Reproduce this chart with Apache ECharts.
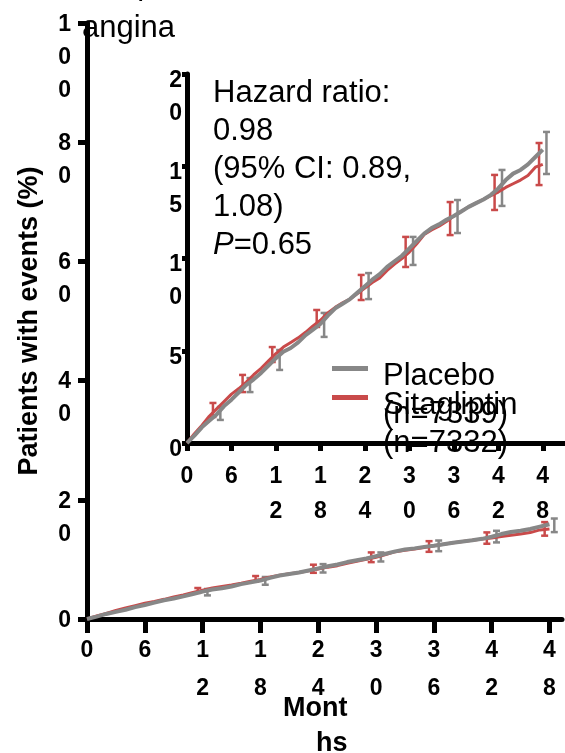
<!DOCTYPE html>
<html>
<head>
<meta charset="utf-8">
<script src="https://cdn.jsdelivr.net/npm/echarts@6/dist/echarts.min.js"></script>
<style>
  html, body { margin: 0; padding: 0; background: #fff; }
  #chart { width: 565px; height: 753px; }
</style>
</head>
<body>
<div id="chart"></div>
<script>
// months of follow-up
var months = [0, 1, 2, 3, 4, 5, 6, 7, 8, 9, 10, 11, 12, 13, 14, 15, 16, 17, 18, 19, 20, 21, 22, 23, 24,
  25, 26, 27, 28, 29, 30, 31, 32, 33, 34, 35, 36, 37, 38, 39, 40, 41, 42, 43, 44, 45, 46, 47, 48];
// cumulative % with events
var placeboPct = [0, 0.4, 0.85, 1.2, 1.55, 2.0, 2.35, 2.75, 3.15, 3.45, 3.8, 4.2, 4.6, 4.95, 5.15, 5.45, 5.85,
  6.15, 6.45, 6.9, 7.3, 7.55, 7.8, 8.15, 8.5, 8.85, 9.15, 9.55, 9.85, 10.15, 10.55, 10.95, 11.35, 11.65,
  11.85, 12.1, 12.3, 12.55, 12.8, 13.0, 13.2, 13.45, 13.8, 14.25, 14.6, 14.8, 15.1, 15.5, 15.9];
var sitagliptinPct = [0, 0.5, 0.95, 1.45, 1.85, 2.25, 2.65, 2.95, 3.3, 3.7, 4.05, 4.45, 4.85, 5.2, 5.45, 5.7, 6.0,
  6.35, 6.65, 7.05, 7.35, 7.6, 7.8, 8.1, 8.4, 8.7, 8.95, 9.35, 9.7, 10.0, 10.35, 10.8, 11.3, 11.55,
  11.75, 12.0, 12.3, 12.55, 12.8, 13.0, 13.2, 13.4, 13.6, 13.85, 14.05, 14.25, 14.5, 14.95, 15.1];
// 95% CI bars
var ciMonths = [4, 8, 12, 18, 24, 30, 36, 42, 48];
var placeboLo = [1.25, 2.76, 3.96, 5.75, 7.80, 9.65, 11.38, 12.85, 14.58];
var placeboHi = [1.95, 3.52, 5.04, 7.05, 9.21, 11.17, 13.17, 14.80, 16.86];
var sitagliptinLo = [1.41, 2.76, 4.39, 6.29, 7.75, 9.54, 11.27, 12.63, 13.98];
var sitagliptinHi = [2.17, 3.69, 5.20, 7.21, 9.11, 11.17, 13.06, 14.53, 16.26];

var monthTicks = [0, 6, 12, 18, 24, 30, 36, 42, 48];

var seriesNames = ['Placebo', 'Sitagliptin'];
var seriesN = ['7339', '7332'];

var GRAY = '#878787';
var RED = '#c94a4a';
var FONT = "'Liberation Sans', Arial, sans-serif";

var chart = echarts.init(document.getElementById('chart'));

function zip(xs, ys) {
  return xs.map(function (x, i) { return [x, ys[i]]; });
}
function ciData(lo, hi) {
  return ciMonths.map(function (m, i) { return [m, lo[i], hi[i]]; });
}
// split every character onto its own line, like the original
function stack(v) {
  return String(v).split('').join('\n');
}

function errorBars(color, shift) {
  return function (params, api) {
    var top = api.coord([api.value(0) + shift, api.value(2)]);
    var bot = api.coord([api.value(0) + shift, api.value(1)]);
    var w = 3.5;
    return {
      type: 'group',
      children: [
        { type: 'line', shape: { x1: top[0], y1: top[1], x2: bot[0], y2: bot[1] }, style: { stroke: color, lineWidth: 2.5 } },
        { type: 'line', shape: { x1: top[0] - w, y1: top[1], x2: top[0] + w, y2: top[1] }, style: { stroke: color, lineWidth: 2.5 } },
        { type: 'line', shape: { x1: bot[0] - w, y1: bot[1], x2: bot[0] + w, y2: bot[1] }, style: { stroke: color, lineWidth: 2.5 } }
      ]
    };
  };
}

function xAxisOf(idx, opts) {
  return {
    type: 'value', gridIndex: idx, min: 0, max: opts.max, interval: 6,
    splitLine: { show: false },
    axisLine: { lineStyle: { color: '#000', width: 5 } },
    axisTick: { customValues: monthTicks, length: opts.tickLen, lineStyle: { color: '#000', width: 5 } },
    axisLabel: {
      customValues: monthTicks, formatter: stack, color: '#000', fontFamily: FONT, fontWeight: 'bold',
      fontSize: 23, lineHeight: opts.lineHeight, margin: opts.margin
    }
  };
}
function yAxisOf(idx, opts) {
  return {
    type: 'value', gridIndex: idx, min: 0, max: opts.max, interval: opts.interval,
    splitLine: { show: false },
    axisLine: { lineStyle: { color: '#000', width: 5 } },
    axisTick: { length: opts.tickLen, lineStyle: { color: '#000', width: 5 } },
    axisLabel: {
      formatter: stack, color: '#000', fontFamily: FONT, fontWeight: 'bold', fontSize: 23,
      lineHeight: 33, margin: opts.margin, verticalAlign: 'top', padding: [opts.padTop, 0, 0, 0]
    }
  };
}

// empty first line pushes the name down so it sits beside the icon
function legendOf(i, top) {
  return {
    data: [seriesNames[i]], left: 332, top: top, orient: 'vertical', padding: 0,
    icon: 'rect', itemWidth: 36, itemHeight: 5, selectedMode: false,
    formatter: function (name) { return '{s| }\n{t|' + name + '}\n{t|(n=' + seriesN[i] + ')}'; },
    textStyle: {
      fontFamily: FONT, fontSize: 31, color: '#000', lineHeight: 37, padding: [0, 0, 0, 10],
      rich: {
        s: { fontSize: 2, lineHeight: 53 },
        t: { fontFamily: FONT, fontSize: 31, color: '#000', lineHeight: 38 }
      }
    }
  };
}

var option = {
  animation: false,
  backgroundColor: '#fff',
  grid: [
    { left: 87, top: 23, width: 475, height: 596, outerBoundsMode: 'none' },
    { left: 187, top: 74, width: 378, height: 369, outerBoundsMode: 'none' }
  ],
  xAxis: [
    Object.assign(xAxisOf(0, { max: 49.3, tickLen: 14, lineHeight: 38, margin: 13 }), {
      name: 'Mont\nhs', nameLocation: 'middle', nameGap: 72, nameMoveOverlap: false,
      nameTextStyle: { fontFamily: FONT, fontWeight: 'bold', fontSize: 27, lineHeight: 35, color: '#000', align: 'right', padding: [0, -23, 0, 0] }
    }),
    xAxisOf(1, { max: 51, tickLen: 8, lineHeight: 35, margin: 16 })
  ],
  yAxis: [
    Object.assign(yAxisOf(0, { max: 100, interval: 20, tickLen: 9, margin: 16, padTop: -15 }), {
      name: 'Patients with events (%)', nameLocation: 'middle', nameGap: 44, nameMoveOverlap: false,
      nameTextStyle: { fontFamily: FONT, fontWeight: 'bold', fontSize: 27, color: '#000' }
    }),
    yAxisOf(1, { max: 20, interval: 5, tickLen: 5, margin: 5, padTop: -10 })
  ],
  legend: [legendOf(0, 304), legendOf(1, 333)],
  graphic: [
    {
      type: 'text', left: 82, bottom: 753 - 50,
      style: { text: 'Hospitalization for unstable\nangina', font: '31px ' + FONT, fill: '#000', lineHeight: 43 }
    },
    {
      type: 'text', left: 213, top: 74,
      style: {
        text: 'Hazard ratio:\n0.98\n(95% CI: 0.89,\n1.08)\n{i|P}=0.65',
        font: '31px ' + FONT, fill: '#000', lineHeight: 38,
        rich: { i: { fontStyle: 'italic', fontFamily: FONT, fontSize: 31, lineHeight: 38 } }
      }
    }
  ],
  series: [
    // main panel: CI bars drawn from 12 months on
    { name: 'Sitagliptin', type: 'line', xAxisIndex: 0, yAxisIndex: 0, data: zip(months, sitagliptinPct),
      showSymbol: false, itemStyle: { color: RED }, lineStyle: { color: RED, width: 3 } },
    { name: 'Placebo', type: 'line', xAxisIndex: 0, yAxisIndex: 0, data: zip(months, placeboPct),
      showSymbol: false, itemStyle: { color: GRAY }, lineStyle: { color: GRAY, width: 4 } },
    { type: 'custom', xAxisIndex: 0, yAxisIndex: 0, data: ciData(sitagliptinLo, sitagliptinHi).slice(2),
      renderItem: errorBars(RED, -0.5), encode: { x: 0, y: [1, 2] } },
    { type: 'custom', xAxisIndex: 0, yAxisIndex: 0, data: ciData(placeboLo, placeboHi).slice(2),
      renderItem: errorBars(GRAY, 0.5), encode: { x: 0, y: [1, 2] } },

    // inset zoom
    { name: 'Sitagliptin', type: 'line', xAxisIndex: 1, yAxisIndex: 1, data: zip(months, sitagliptinPct),
      showSymbol: false, itemStyle: { color: RED }, lineStyle: { color: RED, width: 3 } },
    { name: 'Placebo', type: 'line', xAxisIndex: 1, yAxisIndex: 1, data: zip(months, placeboPct),
      showSymbol: false, itemStyle: { color: GRAY }, lineStyle: { color: GRAY, width: 4 } },
    { type: 'custom', xAxisIndex: 1, yAxisIndex: 1, data: ciData(sitagliptinLo, sitagliptinHi),
      renderItem: errorBars(RED, -0.5), encode: { x: 0, y: [1, 2] } },
    { type: 'custom', xAxisIndex: 1, yAxisIndex: 1, data: ciData(placeboLo, placeboHi),
      renderItem: errorBars(GRAY, 0.5), encode: { x: 0, y: [1, 2] } }
  ]
};

chart.setOption(option);
</script>
</body>
</html>
